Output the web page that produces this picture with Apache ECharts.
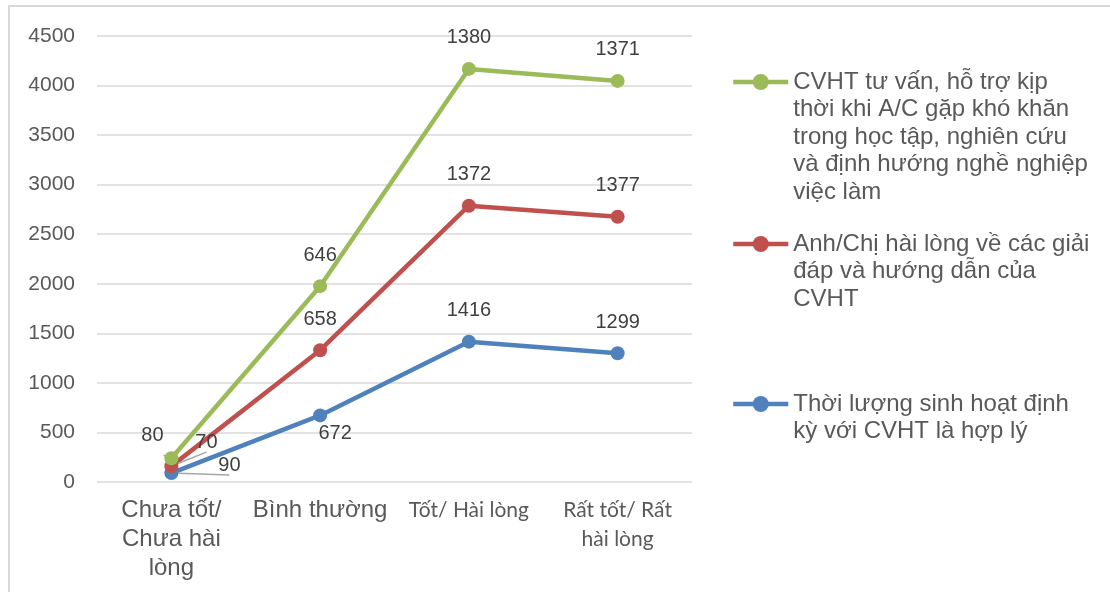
<!DOCTYPE html>
<html>
<head>
<meta charset="utf-8">
<script src="https://cdn.jsdelivr.net/npm/echarts@6/dist/echarts.min.js"></script>
<style>
  html, body { margin: 0; padding: 0; background: #fff; }
  #chart { position: absolute; left: 0; top: 0; width: 1110px; height: 592px; }
  #frame { position: absolute; left: 8px; top: 5px; width: 1110px; height: 600px;
           border: 2px solid #d9d9d9; pointer-events: none; box-sizing: border-box; }
</style>
</head>
<body>
<div id="chart"></div>
<div id="frame"></div>
<script>
const categories = ['Chưa tốt/\nChưa hài\nlòng', 'Bình thường', 'Tốt/ Hài lòng', 'Rất tốt/ Rất\nhài lòng'];
const thoiLuong = [90, 672, 1416, 1299];
const haiLong = [70, 658, 1372, 1377];
const tuVan = [80, 646, 1380, 1371];
const yTicks = { min: 0, max: 4500, interval: 500 };

const nameBlue = 'Thời lượng sinh hoạt định\nkỳ với CVHT là hợp lý';
const nameRed = 'Anh/Chị hài lòng về các giải\nđáp và hướng dẫn của\nCVHT';
const nameGreen = 'CVHT tư vấn, hỗ trợ kịp\nthời khi A/C gặp khó khăn\ntrong học tập, nghiên cứu\nvà định hướng nghề nghiệp\nviệc làm';

const txt = '#595959';
const lblColor = '#404040';
const LH = 27.5;

function firstLabel(v, off) {
  return {
    value: v,
    label: { position: 'inside', offset: off },
    labelLine: { show: true, lineStyle: { color: '#a6a6a6', width: 1.5 } }
  };
}

function makeSeries(name, values, color, firstOff, extra) {
  const data = values.map((v, i) => (i === 0 ? firstLabel(v, firstOff) : v));
  if (extra) extra(data);
  return {
    name: name,
    type: 'line',
    stack: 'total',
    data: data,
    symbol: 'circle',
    symbolSize: 14,
    lineStyle: { width: 4.5, color: color },
    itemStyle: { color: color },
    label: {
      show: true, position: 'top', distance: 14,
      fontFamily: 'Liberation Sans', fontSize: 20, color: lblColor
    },
    z: 2
  };
}

// the icon sits in the middle of the text block, so pad with blank lines above
function legendFor(name, firstLineY) {
  const lines = name.split('\n').length;
  return {
    data: [name],
    left: 726,
    top: firstLineY - (lines - 1) * LH - LH / 2 - 5,
    orient: 'vertical',
    itemWidth: 55,
    itemHeight: 20,
    selectedMode: false,
    lineStyle: { width: 4.5 },
    formatter: function (n) { return ' \n'.repeat(lines - 1) + n; },
    textStyle: { fontFamily: 'Liberation Sans', fontSize: 24, color: txt, lineHeight: LH }
  };
}

const chart = echarts.init(document.getElementById('chart'));
chart.setOption({
  animation: false,
  grid: { left: 97, right: 418, top: 36, bottom: 110 },
  legend: [
    legendFor(nameGreen, 82),
    legendFor(nameRed, 244),
    legendFor(nameBlue, 404)
  ],
  xAxis: {
    type: 'category',
    data: categories,
    boundaryGap: true,
    axisLine: { show: false },
    axisTick: { show: false },
    axisLabel: {
      margin: 14,
      interval: 0,
      formatter: function (value, index) {
        const tag = index >= 2 ? 'b' : 'a';
        return value.split('\n').map(l => '{' + tag + '|' + l + '}').join('\n');
      },
      rich: {
        a: { fontFamily: 'Liberation Sans', fontSize: 24, lineHeight: 29, color: txt },
        b: { fontFamily: 'Lato', fontSize: 21, lineHeight: 29, color: txt }
      }
    }
  },
  yAxis: {
    type: 'value',
    min: yTicks.min,
    max: yTicks.max,
    interval: yTicks.interval,
    axisLine: { show: false },
    axisTick: { show: false },
    splitLine: { lineStyle: { color: '#d9d9d9', width: 1.5 } },
    axisLabel: {
      margin: 22, fontFamily: 'Liberation Sans', fontSize: 21, color: txt,
      formatter: function (v) { return String(v); }
    }
  },
  series: [
    makeSeries(nameBlue, thoiLuong, '#4f81bd', [58, -8], function (d) {
      d[1] = { value: d[1], label: { position: 'inside', offset: [15, 18] } };
    }),
    makeSeries(nameRed, haiLong, '#c0504d', [35, -24]),
    makeSeries(nameGreen, tuVan, '#9bbb59', [-19, -23])
  ]
});
</script>
</body>
</html>
